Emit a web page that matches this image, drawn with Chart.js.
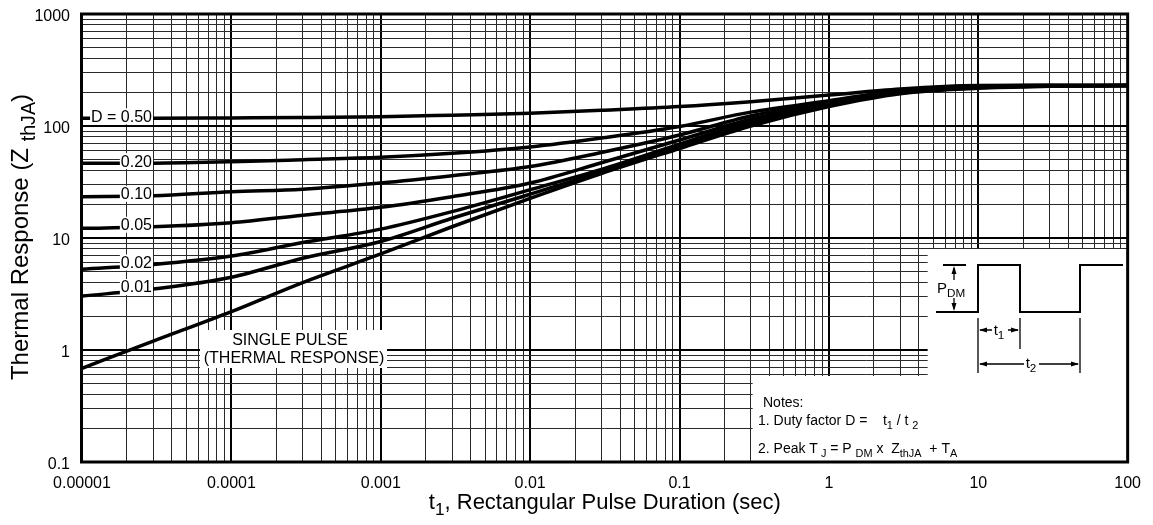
<!DOCTYPE html>
<html>
<head>
<meta charset="utf-8">
<script src="https://cdn.jsdelivr.net/npm/chart.js@4/dist/chart.umd.min.js"></script>
<style>
  html, body { margin: 0; padding: 0; background: #fff; }
  canvas { display: block; }
</style>
</head>
<body>
<canvas id="myChart" width="1153" height="525"></canvas>
<script>
const pulseTimes = [1e-5, 3e-5, 1e-4, 3e-4, 1e-3, 3e-3, 0.01, 0.03, 0.1, 0.3, 1, 3, 10, 30, 100];

// thermal response Z thJA per duty factor
const duty50 = [117, 117, 118, 119, 121, 125, 130, 138, 149, 165, 189, 214, 230, 231, 230];
const duty20 = [46.4, 46.6, 48, 50, 52.5, 57, 65, 78, 99, 133, 168, 208, 228, 230, 230];
const duty10 = [23.4, 23.8, 25.9, 27.3, 31, 36, 43.4, 58, 83, 123, 161, 205, 226, 230, 230];
const duty05 = [12.2, 12.6, 13.7, 16, 18.8, 23.4, 31, 47, 75, 115, 157, 202, 224, 229, 230];
const duty02 = [5.25, 5.8, 6.9, 9.1, 12, 17.2, 27, 41, 69, 109, 154, 199, 222, 228, 230];
const duty01 = [3.03, 3.5, 4.46, 6.6, 9.3, 15, 24.6, 39, 66, 104, 152, 197, 220, 227, 230];
const singlePulse = [0.687, 1.2, 2.2, 4.0, 7.2, 12.6, 22.6, 37.6, 63, 100, 149, 194, 217, 226, 230];

const seriesValues = [duty50, duty20, duty10, duty05, duty02, duty01, singlePulse];
const seriesLabels = ['D = 0.50', '0.20', '0.10', '0.05', '0.02', '0.01', 'SINGLE PULSE'];

const xTickLabels = ['0.00001', '0.0001', '0.001', '0.01', '0.1', '1', '10', '100'];
const yTickLabels = ['0.1', '1', '10', '100', '1000'];

const FONT = '"Liberation Sans", Arial, Helvetica, sans-serif';

// full log grid: 1..9 per decade
function logGrid(firstExp, lastExp) {
    let vals = [];
    for (let e = firstExp; e < lastExp; e++) {
        for (let m = 1; m <= 9; m++) vals.push(Number((m * Math.pow(10, e)).toPrecision(6)));
    }
    vals.push(Math.pow(10, lastExp));
    return vals;
}
const xGrid = logGrid(-5, 2);
const yGrid = logGrid(-1, 3);

function isDecade(v) {
    let l = Math.log10(v);
    return Math.abs(l - Math.round(l)) < 1e-6;
}

const gridColor = c => isDecade(c.tick.value) ? '#000' : '#2a2a2a';
const gridWidth = c => isDecade(c.tick.value) ? 2 : 1;

// text with subscripts: parts = [[text, isSub], ...]
function richText(ctx, parts, x, y, size, align, subRatio) {
    subRatio = subRatio || 0.78;
    let widths = parts.map(p => {
        ctx.font = (p[1] ? size * subRatio : size) + 'px ' + FONT;
        return ctx.measureText(p[0]).width;
    });
    let total = widths.reduce((s, w) => s + w, 0);
    let cx = align === 'center' ? x - total / 2 : x;
    ctx.textAlign = 'left';
    ctx.textBaseline = 'alphabetic';
    parts.forEach((p, i) => {
        ctx.font = (p[1] ? size * subRatio : size) + 'px ' + FONT;
        ctx.fillText(p[0], cx, y + (p[1] ? size * 0.28 : 0));
        cx += widths[i];
    });
}

function arrowHead(ctx, x, y, dir) {
    // dir = direction the tip points
    ctx.beginPath();
    if (dir === 'l') { ctx.moveTo(x, y); ctx.lineTo(x + 8, y - 2.5); ctx.lineTo(x + 8, y + 2.5); }
    if (dir === 'r') { ctx.moveTo(x, y); ctx.lineTo(x - 8, y - 2.5); ctx.lineTo(x - 8, y + 2.5); }
    if (dir === 'u') { ctx.moveTo(x, y); ctx.lineTo(x - 2.5, y + 8); ctx.lineTo(x + 2.5, y + 8); }
    if (dir === 'd') { ctx.moveTo(x, y); ctx.lineTo(x - 2.5, y - 8); ctx.lineTo(x + 2.5, y - 8); }
    ctx.closePath();
    ctx.fill();
}

const overlay = {
    id: 'overlay',
    afterDatasetsDraw(chart) {
        const { ctx, chartArea: a, scales } = chart;
        const yS = scales.y;
        ctx.save();
        ctx.fillStyle = '#000';
        ctx.strokeStyle = '#000';

        // duty factor labels on the left
        ctx.font = '16px ' + FONT;
        chart.data.datasets.forEach((ds, i) => {
            if (i >= 6) return;
            let yy = yS.getPixelForValue(ds.data[1].y) - 2;
            let w = ctx.measureText(ds.label).width;
            let right = a.left + 70;
            ctx.fillStyle = '#fff';
            ctx.fillRect(right - w - 1, yy - 8, w + 2, 16);
            ctx.fillStyle = '#000';
            ctx.textAlign = 'right';
            ctx.textBaseline = 'middle';
            ctx.fillText(ds.label, right, yy + 1);
        });

        // single pulse label
        ctx.fillStyle = '#fff';
        ctx.fillRect(a.left + 118, 330, 187, 38);
        ctx.fillStyle = '#000';
        ctx.textAlign = 'center';
        ctx.textBaseline = 'middle';
        ctx.fillText('SINGLE PULSE', a.left + 208, 341);
        ctx.fillText('(THERMAL RESPONSE)', a.left + 212, 359);

        // white panels for pulse diagram and notes
        ctx.fillStyle = '#fff';
        ctx.fillRect(a.right - 200, 249, 200, 127);
        ctx.fillRect(a.right - 375, 376, 375, a.bottom - 376);

        // pulse waveform
        ctx.fillStyle = '#000';
        ctx.lineWidth = 2;
        ctx.beginPath();
        ctx.moveTo(936, 312); ctx.lineTo(978, 312); ctx.lineTo(978, 265); ctx.lineTo(1020, 265);
        ctx.lineTo(1020, 312); ctx.lineTo(1080, 312); ctx.lineTo(1080, 265); ctx.lineTo(1123, 265);
        ctx.moveTo(943, 265); ctx.lineTo(966, 265);
        ctx.stroke();

        ctx.lineWidth = 1.3;
        ctx.beginPath();
        ctx.moveTo(954, 268); ctx.lineTo(954, 280);
        ctx.moveTo(954, 298); ctx.lineTo(954, 309);
        ctx.moveTo(978, 318); ctx.lineTo(978, 373);
        ctx.moveTo(1020, 318); ctx.lineTo(1020, 349);
        ctx.moveTo(1080, 318); ctx.lineTo(1080, 373);
        ctx.moveTo(980, 330); ctx.lineTo(992, 330);
        ctx.moveTo(1008, 330); ctx.lineTo(1018, 330);
        ctx.moveTo(980, 364); ctx.lineTo(1024, 364);
        ctx.moveTo(1039, 364); ctx.lineTo(1078, 364);
        ctx.stroke();
        arrowHead(ctx, 954, 266, 'u');
        arrowHead(ctx, 954, 311, 'd');
        arrowHead(ctx, 979, 330, 'l');
        arrowHead(ctx, 1019, 330, 'r');
        arrowHead(ctx, 979, 364, 'l');
        arrowHead(ctx, 1079, 364, 'r');

        richText(ctx, [['P', false], ['DM', true]], 937, 293, 15, 'left');
        richText(ctx, [['t', false], ['1', true]], 999, 335, 15, 'center');
        richText(ctx, [['t', false], ['2', true]], 1031, 368, 15, 'center');

        // notes
        richText(ctx, [['Notes:', false]], 763, 407, 14, 'left');
        richText(ctx, [['1. Duty factor D =    t', false], ['1', true], [' / t ', false], ['2', true]], 758, 425, 14, 'left');
        richText(ctx, [['2. Peak T', false], [' J', true], [' = P ', false], ['DM', true], [' x  Z', false],
                       ['thJA', true], ['  + T', false], ['A', true]], 758, 453, 14, 'left');

        // plot frame
        ctx.lineWidth = 3;
        ctx.strokeRect(a.left - 0.5, a.top, a.right - a.left + 0.5, a.bottom - a.top);

        // y tick labels (decades)
        ctx.font = '16px ' + FONT;
        ctx.textAlign = 'right';
        ctx.textBaseline = 'middle';
        yTickLabels.forEach((lab, i) => {
            ctx.fillText(lab, a.left - 12, yS.getPixelForValue(Math.pow(10, i - 1)) + 3);
        });

        // axis titles
        richText(ctx, [['t', false], ['1', true], [', Rectangular Pulse Duration (sec)', false]],
                 (a.left + a.right) / 2, 509, 22, 'center');
        ctx.translate(28, 237);
        ctx.rotate(-Math.PI / 2);
        richText(ctx, [['Thermal Response (Z ', false], ['thJA', true], [')', false]], 0, 0, 24, 'center', 0.82);
        ctx.restore();
    }
};

const ctx = document.getElementById('myChart').getContext('2d');

let chart = new Chart(ctx, {
    type: 'line',
    data: {
        datasets: seriesValues.map((vals, i) => ({
            label: seriesLabels[i],
            data: pulseTimes.map((t, j) => ({ x: t, y: vals[j] })),
            borderColor: '#000',
            borderWidth: 3.5,
            pointRadius: 0,
            fill: false,
            cubicInterpolationMode: 'monotone'
        }))
    },
    options: {
        responsive: false,
        animation: false,
        devicePixelRatio: 1,
        layout: { padding: { top: 14, right: 25, left: 0, bottom: 0 } },
        plugins: { legend: { display: false }, tooltip: { enabled: false } },
        scales: {
            x: {
                type: 'logarithmic',
                min: 1e-5,
                max: 100,
                afterBuildTicks: s => { s.ticks = xGrid.map(v => ({ value: v })); },
                afterFit: s => { s.height = 63; },
                ticks: {
                    autoSkip: false,
                    maxRotation: 0,
                    padding: 12,
                    color: '#000',
                    font: { family: FONT, size: 16 },
                    callback: v => isDecade(v) ? xTickLabels[Math.round(Math.log10(v)) + 5] : ''
                },
                grid: { drawTicks: false, color: gridColor, lineWidth: gridWidth },
                border: { display: false }
            },
            y: {
                type: 'logarithmic',
                min: 0.1,
                max: 1000,
                afterBuildTicks: s => { s.ticks = yGrid.map(v => ({ value: v })); },
                afterFit: s => { s.width = 82; },
                ticks: { display: false },
                grid: { drawTicks: false, color: gridColor, lineWidth: gridWidth },
                border: { display: false }
            }
        }
    },
    plugins: [overlay]
});
</script>
</body>
</html>
